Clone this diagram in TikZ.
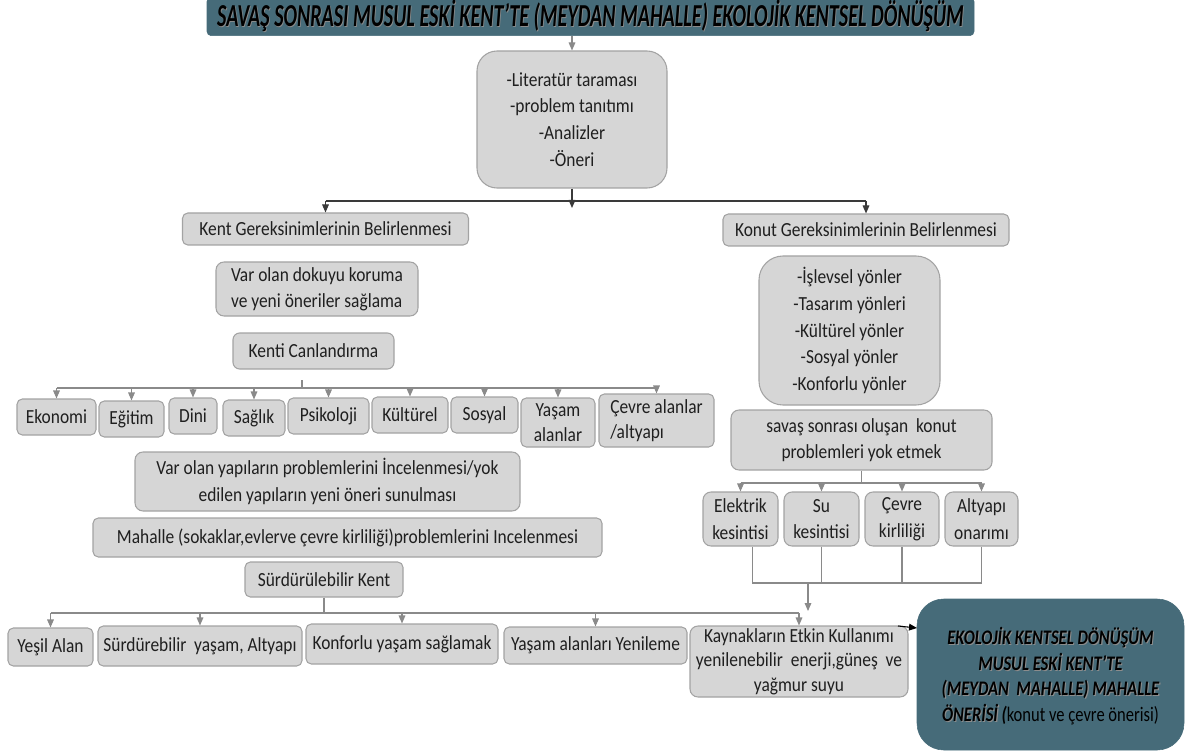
\documentclass[tikz,border=0pt]{standalone}
\usepackage{fontspec}
\setmainfont{Carlito}[FakeStretch=0.87]
\newfontfamily\finfont{Carlito}[FakeStretch=0.8]
\usetikzlibrary{arrows.meta,calc}
\definecolor{darkteal}{HTML}{466B79}
\definecolor{boxfill}{HTML}{D6D6D6}
\definecolor{boxborder}{HTML}{A3A3A3}
\definecolor{linegray}{HTML}{8A8A8A}
\definecolor{linedark}{HTML}{3A3A3A}
\newcommand\shd[1]{\makebox[0pt][l]{\kern0.8pt\raisebox{-0.7pt}{\color{black!45}#1}}#1}
\begin{document}
\begin{tikzpicture}[x=0.75pt,y=-0.75pt,
  sz/.style 2 args={minimum width=#1*0.75pt, minimum height=#2*0.75pt},
  box/.style={draw=boxborder, fill=boxfill, rounded corners=4pt, line width=0.8pt,
    font=\fontsize{15}{20}\selectfont, text=black!88, align=center, inner xsep=2pt, inner ysep=1pt},
  tealbox/.style={draw=darkteal, fill=darkteal, text=black, align=center, inner sep=2pt},
  gline/.style={draw=linegray, line width=0.8pt},
  garrow/.style={draw=linegray, line width=0.8pt, -{Triangle[length=6pt,width=5pt]}, fill=linegray},
  darrow/.style={draw=linedark, line width=0.8pt, -{Triangle[length=6pt,width=5pt]}},
  dline/.style={draw=linedark, line width=0.8pt}]
\useasboundingbox (0,0) rectangle (1186,756);

% title
\node[tealbox, rounded corners=3pt, sz={767}{33}] (title) at (590.5,16.5)
  {\resizebox{560pt}{\height}{\fontsize{24}{24}\selectfont\bfseries\itshape\shd{SAVAŞ SONRASI MUSUL ESKİ KENT’TE (MEYDAN MAHALLE) EKOLOJİK KENTSEL DÖNÜŞÜM}}};

% top
\node[box, rounded corners=15pt, sz={190}{137}] (lit) at (572,119.5)
  {-Literatür taraması\\-problem tanıtımı\\-Analizler\\-Öneri};
\node[box, sz={286}{32}] (kent) at (325.5,229) {Kent Gereksinimlerinin Belirlenmesi};
\node[box, sz={286}{32}] (konut) at (866,230) {Konut Gereksinimlerinin Belirlenmesi};

% left column
\node[box, align=left, rounded corners=6pt, sz={202}{54}, font=\fontsize{15}{19.5}\selectfont] (dokuyu) at (317,289)
  {Var olan dokuyu koruma\\ve yeni öneriler sağlama};
\node[box, rounded corners=5pt, sz={161}{36}] (kenti) at (313.5,351) {Kenti Canlandırma};

\node[box, sz={79}{36}] (eko) at (56.5,417) {Ekonomi};
\node[box, sz={65}{36}] (egi) at (131.5,419) {Eğitim};
\node[box, sz={48}{36}] (dini) at (193,416) {Dini};
\node[box, sz={62}{36}] (sag) at (254,418) {Sağlık};
\node[box, sz={81}{36}] (psi) at (328.5,416) {Psikoloji};
\node[box, sz={76}{36}] (kul) at (410,415) {Kültürel};
\node[box, sz={67}{36}] (sos) at (484.5,415) {Sosyal};
\node[box, sz={74}{49}, font=\fontsize{15}{18.5}\selectfont] (yas) at (558,422.5) {Yaşam\\alanlar};
\node[box, align=left, sz={115}{53}, font=\fontsize{15}{18.5}\selectfont] (cev) at (656.5,420.5) {Çevre alanlar\\/altyapı};

\node[box, rounded corners=6pt, sz={385}{59}] (yapi) at (327.5,481.5)
  {Var olan yapıların problemlerini İncelenmesi/yok\\edilen yapıların yeni öneri sunulması};
\node[box, sz={509}{39}] (mah) at (347.5,537.5)
  {Mahalle (sokaklar,evlerve çevre kirliliği)problemlerini Incelenmesi};
\node[box, sz={158}{35}] (surk) at (324,579.5) {Sürdürülebilir Kent};

% bottom row
\node[box, sz={85}{38}] (yes) at (50.5,647) {Yeşil Alan};
\node[box, sz={204}{40}] (sury) at (200,646) {Sürdürebilir\ \ yaşam, Altyapı};
\node[box, sz={192}{40}] (konf) at (402,644) {Konforlu yaşam sağlamak};
\node[box, sz={183}{37}] (yen) at (595.5,645.5) {Yaşam alanları Yenileme};
\node[box, rounded corners=6pt, sz={218}{71}, font=\fontsize{15}{18.5}\selectfont] (kay) at (799,661.5)
  {Kaynakların Etkin Kullanımı\\yenilenebilir\ \ enerji,güneş\ \ ve\\yağmur suyu};

% right column
\node[box, rounded corners=18pt, sz={181}{149}] (isl) at (849.5,330.5)
  {-İşlevsel yönler\\-Tasarım yönleri\\-Kültürel yönler\\-Sosyal yönler\\-Konforlu yönler};
\node[box, rounded corners=6pt, sz={261}{60}] (sav) at (861.5,440)
  {savaş sonrası oluşan\ \ konut\\problemleri yok etmek};
\node[box, rounded corners=6pt, sz={75}{54}] (ele) at (740.5,519) {Elektrik\\kesintisi};
\node[box, rounded corners=6pt, sz={75}{54}] (su) at (821.5,519) {Su\\kesintisi};
\node[box, rounded corners=6pt, sz={74}{54}] (cek) at (902,519) {Çevre\\kirliliği};
\node[box, rounded corners=6pt, sz={73}{54}] (alt) at (981.5,519) {Altyapı\\onarımı};

% final
\node[tealbox, rounded corners=20pt, sz={267}{151}, text depth=0pt, font=\finfont\fontsize{15.5}{19.3}\selectfont\bfseries\itshape] (fin) at (1050.5,674.5)
  {\shd{EKOLOJİK KENTSEL DÖNÜŞÜM}\\\shd{MUSUL ESKİ KENT’TE}\\\shd{(MEYDAN\ \ MAHALLE) MAHALLE}\\\shd{ÖNERİSİ} ({\upshape\mdseries konut ve çevre önerisi)}};

% connectors
\draw[garrow] (title.south -| lit.north) -- (lit.north);
\coordinate (c1) at (572,208);
\draw[darrow] (lit.south) -- (c1);
\coordinate (jk) at (325.5,201);
\coordinate (jn) at (866,201);
\draw[dline] (jk) -- (jn);
\draw[darrow] (jk) -- (kent.north);
\draw[darrow] (jn) -- (konut.north);

\coordinate (kc) at (302,380);
\coordinate (kj) at (302,388);
\draw[gline] (kc) -- (kj);
\draw[gline] (eko.north |- kj) -- (cev.north |- kj);
\foreach \b in {eko,egi,dini,sag,psi,kul,sos,yas,cev}
  \draw[garrow] (\b.north |- kj) -- (\b.north);

\coordinate (sj) at (861.5,483);
\draw[gline] (sav.south) -- (sj);
\draw[gline] (ele.north |- sj) -- (alt.north |- sj);
\foreach \b in {ele,su,cek,alt}
  \draw[garrow] (\b.north |- sj) -- (\b.north);

\coordinate (bj) at (808,583);
\coordinate (bj2) at (808,611);
\coordinate (elb) at ($(ele.south)+(12,0)$);
\draw[gline] (elb) -- (elb |- bj) -- (alt.south |- bj) -- (alt.south);
\draw[gline] (su.south) -- (su.south |- bj);
\draw[gline] (cek.south) -- (cek.south |- bj);
\draw[garrow] (bj) -- (bj2);

\coordinate (sk) at (324,613);
\draw[gline] (surk.south) -- (sk);
\draw[gline] (yes.north |- sk) -- (kay.north |- sk);
\foreach \b in {yes,sury,konf,yen,kay}
  \draw[garrow] (\b.north |- sk) -- (\b.north);

\coordinate (ka) at (898,626);
\coordinate (kb) at (917,628);
\draw[draw=black, line width=0.8pt, -{Triangle[length=6pt,width=5pt]}] (ka) -- (kb);
\end{tikzpicture}
\end{document}
